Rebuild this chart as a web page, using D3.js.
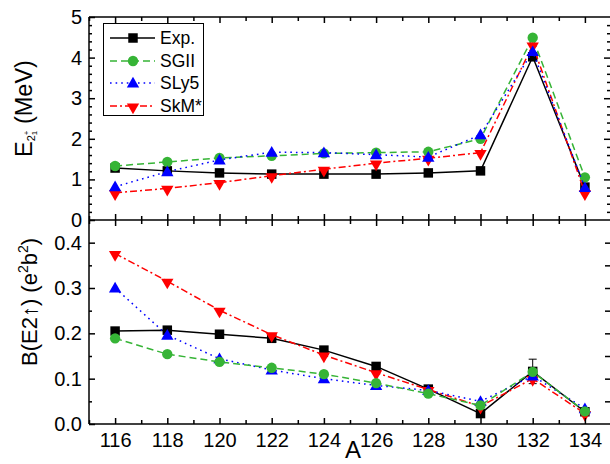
<!DOCTYPE html>
<html>
<head>
<meta charset="utf-8">
<script src="https://cdn.jsdelivr.net/npm/d3@7/dist/d3.min.js"></script>
<style>
  html, body { margin: 0; padding: 0; background: #fff; }
  svg { display: block; font-family: "Liberation Sans", Arial, sans-serif; }
</style>
</head>
<body>
<svg id="chart" width="610" height="464"></svg>
<script>
// ---------- data ----------
const massNumbers = [116, 118, 120, 122, 124, 126, 128, 130, 132, 134];
const xTickLabels = [116, 118, 120, 122, 124, 126, 128, 130, 132, 134];
const topTickLabels = [0, 1, 2, 3, 4, 5];
const botTickLabels = [0.0, 0.1, 0.2, 0.3, 0.4];

const seriesNames = ["Exp.", "SGII", "SLy5", "SkM*"];

// E(2+_1) in MeV
const e2Exp  = [1.28, 1.21, 1.16, 1.13, 1.13, 1.13, 1.16, 1.21, 4.02, 0.81];
const e2SGII = [1.33, 1.43, 1.53, 1.58, 1.64, 1.66, 1.68, 2.00, 4.49, 1.05];
const e2SLy5 = [0.82, 1.19, 1.48, 1.67, 1.66, 1.61, 1.55, 2.10, 4.15, 0.80];
const e2SkM  = [0.67, 0.78, 0.92, 1.09, 1.25, 1.40, 1.52, 1.66, 4.31, 0.67];

// B(E2 up) in e^2 b^2
const bExp  = [0.205, 0.207, 0.198, 0.189, 0.163, 0.127, 0.077, 0.023, 0.116, 0.027];
const bSGII = [0.189, 0.154, 0.137, 0.124, 0.110, 0.090, 0.067, 0.041, 0.115, 0.028];
const bSLy5 = [0.300, 0.196, 0.144, 0.119, 0.100, 0.085, 0.074, 0.050, 0.106, 0.034];
const bSkM  = [0.376, 0.315, 0.251, 0.197, 0.152, 0.113, 0.076, 0.039, 0.100, 0.023];
const bExpErrA = 132, bExpErr = 0.027;

// ---------- styles ----------
const styles = {
  "Exp.": { color: "#000000", dash: null,        symbol: "square" },
  "SGII": { color: "#36b436", dash: "7,4",       symbol: "circle" },
  "SLy5": { color: "#0000ff", dash: "1.6,4",     symbol: "up" },
  "SkM*": { color: "#ff0000", dash: "7,3,2,3",   symbol: "down" }
};

const svg = d3.select("#chart");
const L = 89, R = 611, T = 17, M = 220, B = 424;

const x = d3.scaleLinear().domain([115, 135]).range([L, R]);
const yTop = d3.scaleLinear().domain([0, 5]).range([M, T]);
const yBot = d3.scaleLinear().domain([0, 0.45]).range([B, M]);

function symbolPath(kind) {
  if (kind === "square") return d3.symbol().type(d3.symbolSquare).size(90)();
  if (kind === "circle") return d3.symbol().type(d3.symbolCircle).size(84)();
  return d3.symbol().type(d3.symbolTriangle).size(66)();
}
function drawMarker(g, kind, color, cx, cy) {
  const p = g.append("path").attr("d", symbolPath(kind)).attr("fill", color);
  if (kind === "down") p.attr("transform", `translate(${cx},${cy}) rotate(180) translate(0,-1)`);
  else if (kind === "up") p.attr("transform", `translate(${cx},${cy + 1})`);
  else p.attr("transform", `translate(${cx},${cy})`);
}

function drawSeries(g, name, values, y) {
  const st = styles[name];
  const line = d3.line().x((d, i) => x(massNumbers[i])).y(d => y(d));
  const path = g.append("path").attr("d", line(values))
    .attr("fill", "none").attr("stroke", st.color).attr("stroke-width", 1.5);
  if (st.dash) path.attr("stroke-dasharray", st.dash);
  values.forEach((v, i) => drawMarker(g, st.symbol, st.color, x(massNumbers[i]), y(v)));
}

// ---------- top panel series ----------
const gTop = svg.append("g");
drawSeries(gTop, "Exp.", e2Exp, yTop);
drawSeries(gTop, "SGII", e2SGII, yTop);
drawSeries(gTop, "SkM*", e2SkM, yTop);
drawSeries(gTop, "SLy5", e2SLy5, yTop);

// ---------- bottom panel series ----------
const gBot = svg.append("g");
{
  const ex = x(bExpErrA), v = bExp[massNumbers.indexOf(bExpErrA)];
  const y1 = yBot(v + bExpErr), y2 = yBot(v - bExpErr);
  gBot.append("line").attr("x1", ex).attr("x2", ex).attr("y1", y1).attr("y2", y2).attr("stroke", "#000").attr("stroke-width", 1);
  [y1, y2].forEach(yy => gBot.append("line").attr("x1", ex - 4).attr("x2", ex + 4).attr("y1", yy).attr("y2", yy).attr("stroke", "#000").attr("stroke-width", 1));
}
drawSeries(gBot, "Exp.", bExp, yBot);
drawSeries(gBot, "SkM*", bSkM, yBot);
drawSeries(gBot, "SLy5", bSLy5, yBot);
drawSeries(gBot, "SGII", bSGII, yBot);

// ---------- axes ----------
const axW = 1.5;
function styleAxis(g, fontSize) {
  g.select(".domain").remove();
  g.selectAll(".tick line").attr("stroke", "#000").attr("stroke-width", axW);
  g.selectAll(".tick text").attr("fill", "#000").attr("font-size", fontSize)
    .attr("font-family", "Liberation Sans, Arial, sans-serif");
}
const xMajor = xTickLabels;
const xMinor = d3.range(115, 136, 1).filter(v => !xMajor.includes(v));

let g;
g = svg.append("g").attr("transform", `translate(0,${B})`)
  .call(d3.axisBottom(x).tickValues(xMajor).tickSize(-6).tickPadding(9).tickFormat(d3.format("d")));
styleAxis(g, 20);
g = svg.append("g").attr("transform", `translate(0,${B})`)
  .call(d3.axisBottom(x).tickValues(xMinor).tickSize(-4).tickFormat(""));
styleAxis(g, 20);

[[-6, -4], [6, 4]].forEach(([maj, min]) => {
  g = svg.append("g").attr("transform", `translate(0,${M})`)
    .call(d3.axisBottom(x).tickValues(xMajor).tickSize(maj).tickFormat(""));
  styleAxis(g, 20);
  g = svg.append("g").attr("transform", `translate(0,${M})`)
    .call(d3.axisBottom(x).tickValues(xMinor).tickSize(min).tickFormat(""));
  styleAxis(g, 20);
});
g = svg.append("g").attr("transform", `translate(0,${T})`)
  .call(d3.axisTop(x).tickValues(xMajor).tickSize(-6).tickFormat(""));
styleAxis(g, 20);
g = svg.append("g").attr("transform", `translate(0,${T})`)
  .call(d3.axisTop(x).tickValues(xMinor).tickSize(-4).tickFormat(""));
styleAxis(g, 20);

const topMinor = d3.range(0.2, 5, 0.2).filter(v => Math.abs(v - Math.round(v)) > 0.01);
g = svg.append("g").attr("transform", `translate(${L},0)`)
  .call(d3.axisLeft(yTop).tickValues(topTickLabels).tickSize(-6).tickPadding(7).tickFormat(d3.format("d")));
styleAxis(g, 20);
g = svg.append("g").attr("transform", `translate(${L},0)`)
  .call(d3.axisLeft(yTop).tickValues(topMinor).tickSize(-3).tickFormat(""));
styleAxis(g, 20);
g = svg.append("g").attr("transform", `translate(${L},0)`)
  .call(d3.axisLeft(yBot).tickValues(botTickLabels).tickSize(-6).tickPadding(7).tickFormat(d3.format(".1f")));
styleAxis(g, 20);
g = svg.append("g").attr("transform", `translate(${L},0)`)
  .call(d3.axisLeft(yBot).tickValues([0.05, 0.15, 0.25, 0.35]).tickSize(-3).tickFormat(""));
styleAxis(g, 20);

g = svg.append("g").attr("transform", `translate(${R - 1},0)`)
  .call(d3.axisRight(yTop).tickValues(topTickLabels.filter(v => v > 0 && v < 5)).tickSize(-6).tickFormat(""));
styleAxis(g, 20);
g = svg.append("g").attr("transform", `translate(${R - 1},0)`)
  .call(d3.axisRight(yTop).tickValues(topMinor).tickSize(-3).tickFormat(""));
styleAxis(g, 20);
g = svg.append("g").attr("transform", `translate(${R - 1},0)`)
  .call(d3.axisRight(yBot).tickValues([0.05, 0.1, 0.15, 0.2, 0.25, 0.3, 0.35, 0.4]).tickSize(-5).tickFormat(""));
styleAxis(g, 20);

const frame = svg.append("g").attr("stroke", "#000").attr("stroke-width", axW).attr("fill", "none");
frame.append("line").attr("x1", L).attr("x2", L).attr("y1", T).attr("y2", B);
frame.append("line").attr("x1", R).attr("x2", R).attr("y1", T).attr("y2", B);
frame.append("line").attr("x1", L).attr("x2", R).attr("y1", T).attr("y2", T);
frame.append("line").attr("x1", L).attr("x2", R).attr("y1", M).attr("y2", M);
frame.append("line").attr("x1", L).attr("x2", R).attr("y1", B).attr("y2", B);

// ---------- legend ----------
const leg = svg.append("g");
leg.append("rect").attr("x", 103.5).attr("y", 23.5).attr("width", 100).attr("height", 92)
  .attr("fill", "#fff").attr("stroke", "#000").attr("stroke-width", 1);
const legY = [38, 61, 83, 106];
seriesNames.forEach((name, i) => {
  const st = styles[name];
  const ln = leg.append("line").attr("x1", 110).attr("x2", 155).attr("y1", legY[i]).attr("y2", legY[i])
    .attr("stroke", st.color).attr("stroke-width", 1.5);
  if (st.dash) ln.attr("stroke-dasharray", st.dash);
  drawMarker(leg, st.symbol, st.color, 133, legY[i]);
  leg.append("text").attr("x", 160).attr("y", legY[i] + 6).attr("font-size", 17.5).attr("fill", "#000").text(name);
});

// ---------- axis titles ----------
const tTop = svg.append("text").attr("transform", `translate(32,157) rotate(-90)`)
  .attr("font-size", 23.5).attr("fill", "#000");
tTop.append("tspan").text("E");
tTop.append("tspan").attr("font-size", 11).attr("dy", 3).text("2");
tTop.append("tspan").attr("font-size", 8).attr("dy", 2).text("1");
tTop.append("tspan").attr("font-size", 8).attr("dx", -4.5).attr("dy", -8).text("+");
tTop.append("tspan").attr("dy", 3).text(" (MeV)");

const tBot = svg.append("text").attr("transform", `translate(37,366) rotate(-90)`)
  .attr("font-size", 22).attr("fill", "#000");
tBot.append("tspan").text("B(E2\u2191) (e");
tBot.append("tspan").attr("font-size", 14).attr("dy", -9).text("2");
tBot.append("tspan").attr("dy", 9).text("b");
tBot.append("tspan").attr("font-size", 14).attr("dy", -9).text("2");
tBot.append("tspan").attr("dy", 9).text(")");

svg.append("text").attr("x", 353).attr("y", 458).attr("text-anchor", "middle")
  .attr("font-size", 24).attr("fill", "#000").text("A");
</script>
</body>
</html>
